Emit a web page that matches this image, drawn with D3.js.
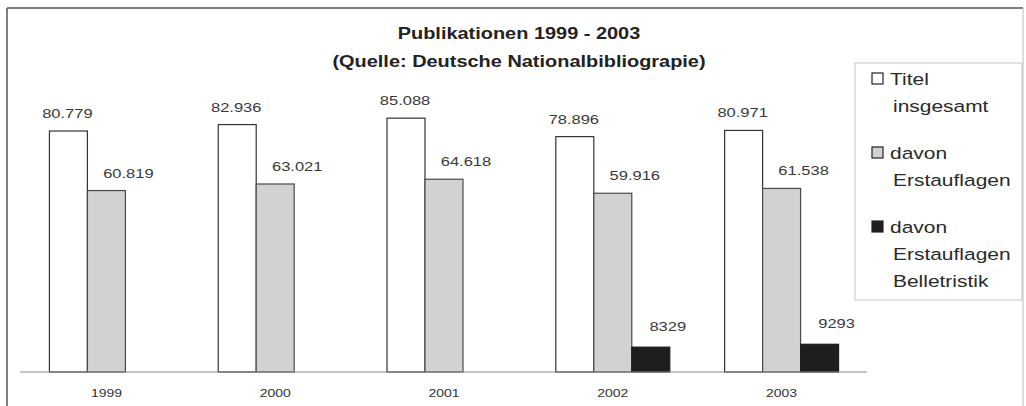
<!DOCTYPE html>
<html lang="de">
<head>
    <meta charset="UTF-8">
    <title>Publikationen 1999 - 2003</title>
    <script src="https://d3js.org/d3.v7.min.js"></script>
    <style>
        body { margin: 0; background: #ffffff; }
        svg { display: block; font-family: 'Liberation Sans', Arial, sans-serif; }
    </style>
</head>
<body>
    <svg id="chart" width="1026" height="406"></svg>

    <script>
        // --- Daten ---
        const years = ["1999", "2000", "2001", "2002", "2003"];
        const seriesNames = ["Titel insgesamt", "davon Erstauflagen", "davon Erstauflagen Belletristik"];
        const titelInsgesamt = [80779, 82936, 85088, 78896, 80971];
        const erstauflagen = [60819, 63021, 64618, 59916, 61538];
        const belletristik = [null, null, null, 8329, 9293];
        const legendLines = [["Titel", "insgesamt"], ["davon", "Erstauflagen"], ["davon", "Erstauflagen", "Belletristik"]];

        const seriesValues = [titelInsgesamt, erstauflagen, belletristik];
        const fills = ["#ffffff", "#d2d2d2", "#1e1e1e"];
        const strokes = ["#333333", "#4a4a4a", "#1e1e1e"];
        const labelDx = [-1, 22, 17];
        const labelGap = [13, 13, 16];

        const de = d3.formatLocale({ decimal: ",", thousands: ".", grouping: [3], currency: ["", " €"] });
        const formats = [de.format(","), de.format(","), d3.format("d")];

        const svg = d3.select("#chart");
        const STRETCH = 1.27; // Schrift im Original horizontal gestreckt

        function stretchedText(parent, x, y, str, anchor) {
            return parent.append("text")
                .attr("transform", `translate(${x},${y}) scale(${STRETCH},1)`)
                .attr("text-anchor", anchor || "start")
                .text(str);
        }

        // --- Rahmen ---
        svg.append("line").attr("x1", 7).attr("x2", 1023).attr("y1", 8).attr("y2", 8)
            .attr("stroke", "#555").attr("stroke-width", 1.5);
        svg.append("line").attr("x1", 7).attr("x2", 7).attr("y1", 8).attr("y2", 406)
            .attr("stroke", "#555").attr("stroke-width", 1.5);
        svg.append("line").attr("x1", 1023).attr("x2", 1023).attr("y1", 8).attr("y2", 406)
            .attr("stroke", "#bbb").attr("stroke-width", 1);

        // --- Skalen ---
        const x0 = d3.scaleBand().domain(years).range([22, 866]).paddingInner(0.325).paddingOuter(0.1625);
        const x1 = d3.scaleBand().domain(d3.range(seriesValues.length)).range([0, x0.bandwidth()]);
        const y = d3.scaleLinear().domain([0, 90000]).range([372, 103.5]);

        // --- Titel ---
        const title = svg.append("g").attr("font-weight", "bold").attr("font-size", 15.7).attr("fill", "#222");
        stretchedText(title, 519, 38.5, "Publikationen 1999 - 2003", "middle");
        stretchedText(title, 519, 67, "(Quelle: Deutsche Nationalbibliograpie)", "middle");

        // --- Balken ---
        const rows = years.map((yr, i) => ({ year: yr, values: seriesValues.map((s, k) => ({ k: k, v: s[i] })) }));

        const groups = svg.append("g").selectAll("g").data(rows).join("g")
            .attr("transform", d => `translate(${x0(d.year)},0)`);

        groups.selectAll("rect").data(d => d.values.filter(e => e.v != null)).join("rect")
            .attr("x", d => x1(d.k))
            .attr("y", d => y(d.v))
            .attr("width", x1.bandwidth())
            .attr("height", d => y(0) - y(d.v))
            .attr("fill", d => fills[d.k])
            .attr("stroke", d => strokes[d.k])
            .attr("stroke-width", 1.2);

        // Wertebeschriftung
        groups.each(function (d) {
            const g = d3.select(this).append("g").attr("font-size", 13).attr("fill", "#3a3a3a");
            d.values.filter(e => e.v != null).forEach(e => {
                stretchedText(g, x1(e.k) + x1.bandwidth() / 2 + labelDx[e.k], y(e.v) - labelGap[e.k], formats[e.k](e.v), "middle");
            });
        });

        // --- x-Achse ---
        svg.append("line").attr("x1", 20).attr("x2", 867).attr("y1", y(0)).attr("y2", y(0))
            .attr("stroke", "#888").attr("stroke-width", 1);
        const xLabels = svg.append("g").attr("font-size", 11).attr("fill", "#333");
        years.forEach(yr => stretchedText(xLabels, x0(yr) + x0.bandwidth() / 2, 397, yr, "middle"));

        // --- Legende ---
        svg.append("rect").attr("x", 855).attr("y", 63).attr("width", 167).attr("height", 237)
            .attr("fill", "#fff").attr("stroke", "#c4c4c4").attr("stroke-width", 1);
        const legend = svg.append("g").attr("font-size", 16.5).attr("fill", "#2a2a2a");
        let baseY = 85;
        seriesNames.forEach((name, k) => {
            legend.append("rect").attr("x", 872).attr("y", baseY - 12).attr("width", 11).attr("height", 11)
                .attr("fill", fills[k]).attr("stroke", "#222").attr("stroke-width", 1.2);
            legendLines[k].forEach((line, j) => {
                stretchedText(legend, j === 0 ? 890 : 893, baseY + j * 27, line);
            });
            baseY += (legendLines[k].length - 1) * 27 + 47;
        });
    </script>
</body>
</html>
